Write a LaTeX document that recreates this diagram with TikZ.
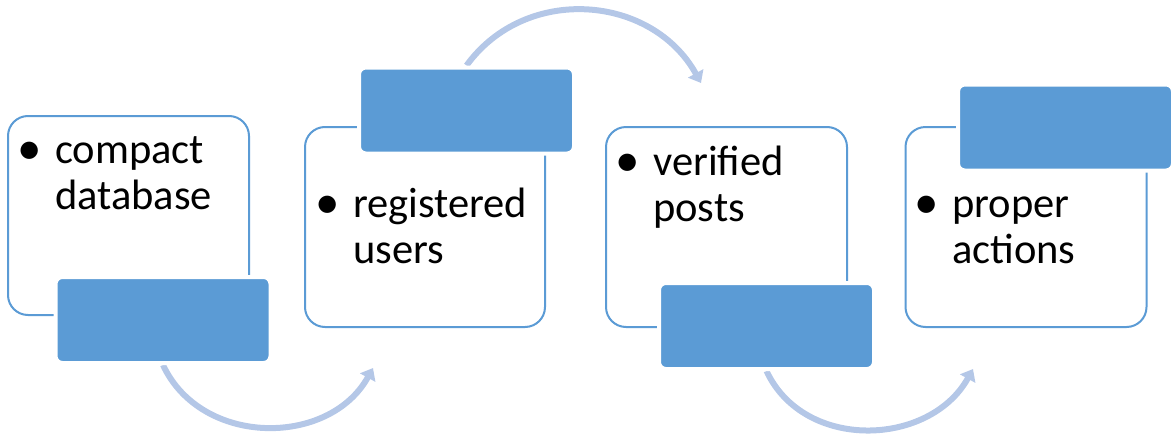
\documentclass[tikz,border=0pt]{standalone}
\usepackage{fontspec}
\setmainfont{Carlito}
\usetikzlibrary{arrows.meta}
\definecolor{accent}{RGB}{91,155,213}
\definecolor{arrowc}{RGB}{180,199,231}
\pgfdeclarelayer{bg}
\pgfsetlayers{bg,main}
\newcommand{\bul}{\makebox[37.5pt][l]{\raisebox{-1.5pt}{\scalebox{1.15}{•}}}}
\begin{document}
\begin{tikzpicture}[x=1pt,y=1pt,
  outbox/.style={draw=accent, line width=2pt, rounded corners=20pt, fill=white, inner sep=0pt, minimum width=241pt, minimum height=200pt},
  fillbox/.style={fill=accent, draw=white, line width=4pt, rounded corners=7pt, inner sep=0pt, minimum width=215pt, minimum height=86pt},
  flow/.style={draw=arrowc, line width=6pt, -{Triangle[length=11pt,width=17pt]}},
  item/.style={anchor=base west, inner sep=0pt, font=\fontsize{42.5}{46.5}\selectfont}]
\useasboundingbox (0,0) rectangle (1173,-434);
% outline boxes
\node[outbox, minimum height=199pt] (B1) at (128.5,-215.5) {};
\node[outbox, minimum width=240pt] (B2) at (425,-227) {};
\node[outbox] (B3) at (726.5,-227) {};
\node[outbox] (B4) at (1026,-227) {};
% filled boxes
\node[fillbox] (F1) at (163,-320) {};
\node[fillbox] (F2) at (466.5,-110.5) {};
\node[fillbox] (F3) at (766.5,-326) {};
\node[fillbox] (F4) at (1065.5,-127.5) {};
% texts
\node[item] (T1) at (17.5,-163) {\begin{tabular}[t]{@{}l@{}l@{}}\bul&compact\\&database\end{tabular}};
\node[item] (T2) at (315.5,-217) {\begin{tabular}[t]{@{}l@{}l@{}}\bul&registered\\&users\end{tabular}};
\node[item] (T3) at (615.5,-175) {\begin{tabular}[t]{@{}l@{}l@{}}\bul&verified\\&posts\end{tabular}};
\node[item] (T4) at (914.5,-217) {\begin{tabular}[t]{@{}l@{}l@{}}\bul&proper\\&actions\end{tabular}};
% arrow end points
\coordinate (E1) at (373,-368);
\coordinate (E2) at (701,-83);
\coordinate (E3) at (973,-369);
\begin{pgfonlayer}{bg}
\draw[flow] (F1.south) to[out=-65, in=-119, looseness=1.1] (E1);
\draw[flow] (F2.north) to[out=54, in=119, looseness=1.1] (E2);
\draw[flow] (F3.south) to[out=-65, in=-119, looseness=1.1] (E3);
\end{pgfonlayer}
\end{tikzpicture}
\end{document}
